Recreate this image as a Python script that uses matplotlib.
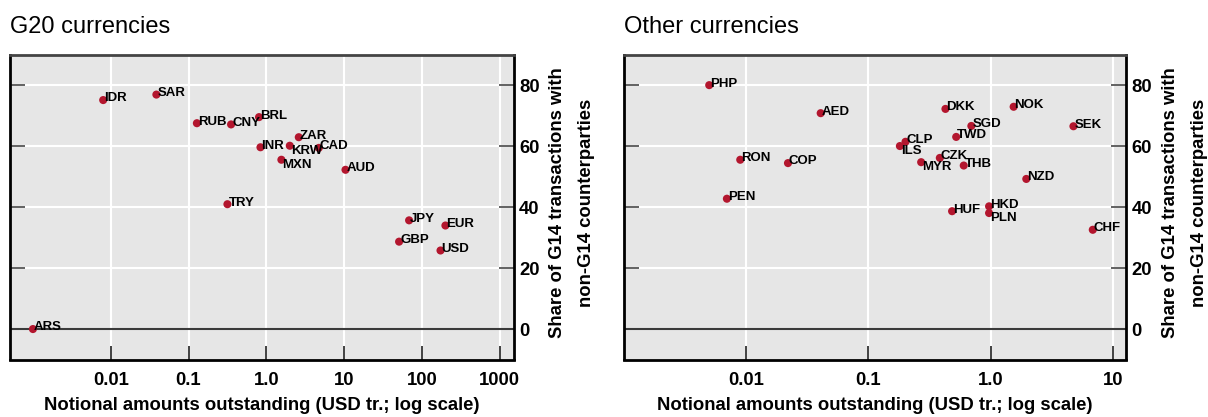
import matplotlib.pyplot as plt
import numpy as np

plt.rcParams['font.family'] = ['Liberation Sans', 'DejaVu Sans']

# G20 currencies: notional amount (USD tr.) and share of G14 trades with non-G14 (%)
g20_codes = ['ARS', 'IDR', 'SAR', 'RUB', 'CNY', 'BRL', 'INR', 'KRW', 'MXN',
             'ZAR', 'CAD', 'AUD', 'TRY', 'JPY', 'EUR', 'GBP', 'USD']
g20_amount = [0.001, 0.008, 0.0386, 0.128, 0.352, 0.805, 0.84, 2.0, 1.56,
              2.61, 4.72, 10.4, 0.316, 68.3, 200, 50.8, 173]
g20_share = [0.0, 75.2, 77.0, 67.6, 67.2, 69.6, 59.7, 60.2, 55.6,
             63.0, 59.5, 52.3, 41.0, 35.7, 34.0, 28.7, 25.8]
g20_below = ['KRW', 'MXN']

# other currencies
oth_codes = ['PHP', 'AED', 'RON', 'COP', 'PEN', 'CLP', 'ILS', 'DKK', 'NOK',
             'SGD', 'TWD', 'SEK', 'CZK', 'MYR', 'THB', 'NZD', 'HUF', 'HKD',
             'PLN', 'CHF']
oth_amount = [0.00502, 0.0409, 0.009, 0.0221, 0.007, 0.2018, 0.1816, 0.428,
              1.545, 0.697, 0.524, 4.76, 0.385, 0.271, 0.604, 1.96, 0.485,
              0.973, 0.973, 6.85]
oth_share = [80.1, 70.9, 55.6, 54.5, 42.8, 61.5, 60.1, 72.3, 73.0, 66.7,
             63.1, 66.6, 56.2, 54.8, 53.7, 49.3, 38.7, 40.3, 38.1, 32.6]
oth_below = ['ILS', 'MYR', 'PLN']

yticks = [0, 20, 40, 60, 80]
g20_xticks = [0.01, 0.1, 1, 10, 100, 1000]
g20_xticklabels = ['0.01', '0.1', '1.0', '10', '100', '1000']
oth_xticks = [0.01, 0.1, 1, 10]
oth_xticklabels = ['0.01', '0.1', '1.0', '10']

dot_color = '#b3162e'
W, H = 1208, 417


def panel(ax, title, codes, amount, share, below, xlim, xticks, xticklabels, width_px):
    ax.set_facecolor('#e6e6e6')
    ax.set_xscale('log')
    ax.set_xlim(xlim)
    ax.set_ylim(-10, 90)
    ax.set_xticks(xticks)
    ax.set_xticklabels(xticklabels)
    ax.xaxis.set_minor_locator(plt.NullLocator())
    ax.set_yticks(yticks)
    ax.grid(True, color='white', lw=1.5)
    ax.set_axisbelow(True)
    ax.axhline(0, color='#3a3a3a', lw=1.5, zorder=1.5)

    ax.tick_params(axis='x', direction='in', length=10, width=1.3,
                   color='#333333', pad=9, labelsize=13.3)
    ax.tick_params(axis='y', direction='in', length=11, width=1.3,
                   color='#555555', left=True, right=True,
                   labelleft=False, labelright=True, pad=4, labelsize=13.3)
    for tl in ax.get_xticklabels() + ax.get_yticklabels():
        tl.set_fontweight('bold')

    for s in ['left', 'bottom', 'right']:
        ax.spines[s].set_color('black')
        ax.spines[s].set_linewidth(2)
    ax.spines['top'].set_color('#444444')
    ax.spines['top'].set_linewidth(2)

    ax.scatter(amount, share, s=34, color=dot_color, edgecolors='none', zorder=3)
    for c, x, y in zip(codes, amount, share):
        if c in below:
            ax.annotate(c, (x, y), xytext=(0.7, 0.5), textcoords='offset points',
                        fontsize=9.5, fontweight='bold', ha='left', va='top', zorder=4)
        else:
            ax.annotate(c, (x, y), xytext=(0.7, -1), textcoords='offset points',
                        fontsize=9.5, fontweight='bold', ha='left', va='baseline', zorder=4)

    ax.set_title(title, loc='left', fontsize=17, pad=16)
    ax.set_xlabel('Notional amounts outstanding (USD tr.; log scale)',
                  fontsize=13.3, fontweight='bold', labelpad=6)
    ax.yaxis.set_label_position('right')
    ax.set_ylabel('Share of G14 transactions with\nnon-G14 counterparties',
                  fontsize=13.3, fontweight='bold', rotation=90, linespacing=1.9)
    ax.yaxis.set_label_coords(1 + 36 / width_px, 0.515)


fig = plt.figure(figsize=(W / 100, H / 100), dpi=100)
ax1 = fig.add_axes([9.5 / W, 1 - 359.5 / H, 504 / W, 304.5 / H])
ax2 = fig.add_axes([623.5 / W, 1 - 359.5 / H, 502.5 / W, 304.5 / H])

panel(ax1, 'G20 currencies', g20_codes, g20_amount, g20_share, g20_below,
      (5e-4, 1500), g20_xticks, g20_xticklabels, 504)
panel(ax2, 'Other currencies', oth_codes, oth_amount, oth_share, oth_below,
      (1e-3, 12.8), oth_xticks, oth_xticklabels, 502.5)

fig.savefig('out.png', dpi=100)
